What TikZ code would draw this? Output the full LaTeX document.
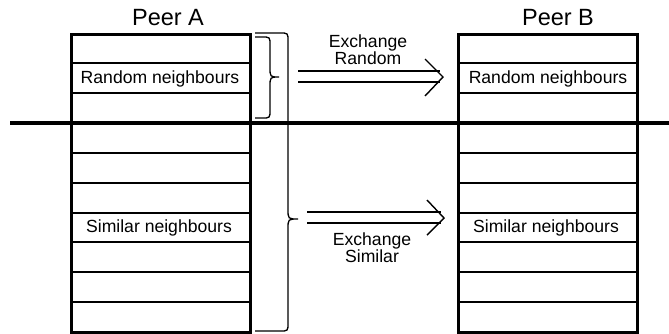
\documentclass[tikz,border=0pt]{standalone}
\usepackage{fontspec}
\setmainfont{Liberation Sans}
\begin{document}
\begin{tikzpicture}[x=1pt,y=-1pt,
  peerbox/.style={draw, line width=2.8pt, minimum width=179pt, minimum height=298pt, inner sep=0pt, anchor=north west},
  rowline/.style={line width=1.4pt},
  divider/.style={line width=3.2pt},
  bracestyle/.style={line width=1.3pt},
  arrowline/.style={line width=1.4pt},
  celltext/.style={font=\fontsize{17.6}{18}\selectfont, anchor=base, inner sep=0pt},
  titletext/.style={font=\fontsize{23.5}{24}\selectfont, anchor=base, inner sep=0pt},
  lbltext/.style={font=\fontsize{17.6}{16}\selectfont, align=center, inner sep=0pt}]
\useasboundingbox (0,0) rectangle (669,333);
\fill[white] (0,0) rectangle (669,333);
% peers
\node[peerbox] (peerA) at (70,33) {};
\node[peerbox] (peerB) at (457,33) {};
\foreach \p in {peerA,peerB}{
  \foreach \y in {63,93,153,183,213,242,272,302}{
    \draw[rowline] (\p.west |- 0,\y) -- (\p.east |- 0,\y);
  }
}
% titles
\node[titletext] (tA) at (168,25) {Peer A};
\node[titletext] (tB) at (558,25) {Peer B};
% cell labels
\node[celltext] (rA) at (160,83.3) {Random neighbours};
\node[celltext] (sA) at (159,232.7) {Similar neighbours};
\node[celltext] (rB) at (548,83.3) {Random neighbours};
\node[celltext] (sB) at (546,232.7) {Similar neighbours};
% divider
\coordinate (divL) at (10,123);
\coordinate (divR) at (669,123);
\draw[divider] (divL) -- (divR);
% small brace
\coordinate (sbTip) at (279,77);
\draw[bracestyle] (255,37) -- (262,37) .. controls (270,37) .. (270,45) -- (270,67)
  .. controls (270,77) .. (sbTip) .. controls (270,77) .. (270,87) -- (270,110)
  .. controls (270,118) .. (262,118) -- (255,118);
% big brace
\coordinate (bbTip) at (298,219);
\draw[bracestyle] (255,33) -- (280,33) .. controls (288,33) .. (288,41) -- (288,209)
  .. controls (288,219) .. (bbTip) .. controls (288,219) .. (288,229) -- (288,323)
  .. controls (288,331) .. (280,331) -- (255,331);
% top arrow
\coordinate (a1s) at (298,76.5);
\coordinate (a1e) at (443,77);
\draw[arrowline] (a1s |- 0,71) -- (440,71);
\draw[arrowline] (a1s |- 0,82) -- (440,82);
\draw[arrowline] (425,59) -- (a1e) -- (425,96);
% bottom arrow
\coordinate (a2s) at (307,217.5);
\coordinate (a2e) at (444,218);
\draw[arrowline] (a2s |- 0,212) -- (441,212);
\draw[arrowline] (a2s |- 0,223) -- (441,223);
\draw[arrowline] (427,200) -- (a2e) -- (427,235);
% labels
\node[lbltext] (lr) at (368,50) {Exchange\\Random};
\node[lbltext] (ls) at (372,247.5) {Exchange\\Similar};
\end{tikzpicture}
\end{document}
